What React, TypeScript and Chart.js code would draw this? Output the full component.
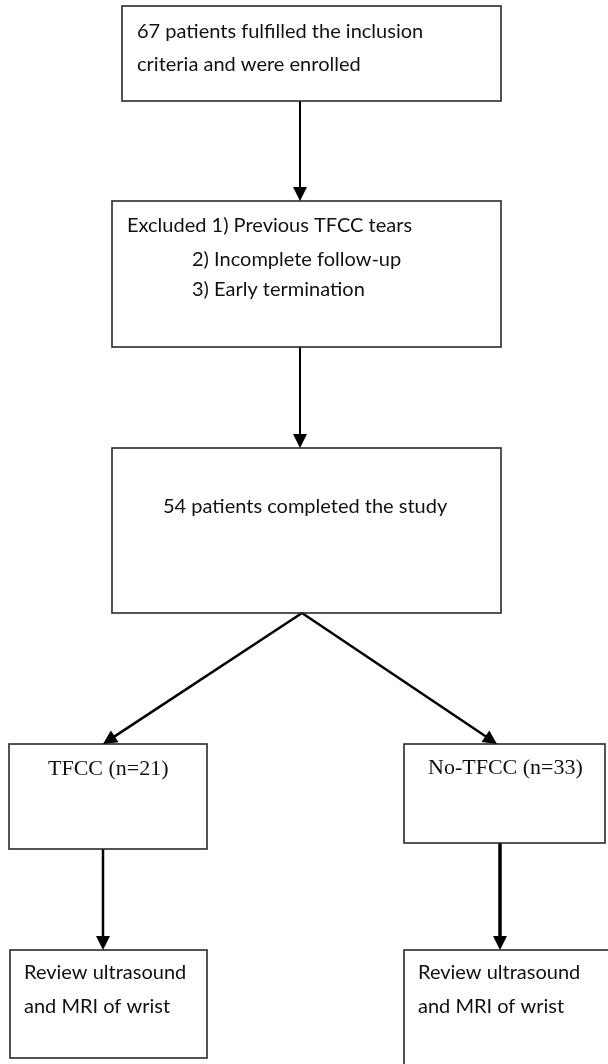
import React, { useEffect, useRef } from "react";
import { Chart, registerables } from "chart.js";

Chart.register(...registerables);

// Flowchart boxes (in chart units: x 0..608, y 0..1064 from top)
const boxLeft = [122, 112, 112, 9, 404, 10, 404];
const boxRight = [501, 501, 501, 207, 605, 207, 614];
const boxTop = [6, 201, 448, 744, 744, 950, 950];
const boxBottom = [101, 347, 613, 849, 843, 1058, 1072];

// Connector arrows
const arrowFromX = [300, 300, 302, 302, 103, 500];
const arrowFromY = [101, 347, 613, 613, 849, 843];
const arrowToX = [300, 300, 103, 497, 103, 500];
const arrowToY = [201, 448, 744, 744, 950, 950];
const arrowWidth = [2, 2, 2.5, 2.5, 2.5, 3.5];

// Text labels
const textLines = [
  "67 patients fulfilled the inclusion",
  "criteria and were enrolled",
  "Excluded 1) Previous TFCC tears",
  "2) Incomplete follow-up",
  "3) Early termination",
  "54 patients completed the study",
  "TFCC (n=21)",
  "No-TFCC (n=33)",
  "Review ultrasound",
  "and MRI of wrist",
  "Review ultrasound",
  "and MRI of wrist",
];
const textX = [137, 137, 127, 192, 192, 163, 48, 428, 24, 24, 418, 418];
const textY = [32, 65, 226, 260, 290, 507, 769, 768, 973, 1007, 973, 1007];
const textSerif = [false, false, false, false, false, false, true, true, false, false, false, false];

const W = 608;
const H = 1064;

const flowPlugin = {
  id: "flow",
  afterDatasetsDraw(chart: any) {
    const ctx = chart.ctx as CanvasRenderingContext2D;
    const xs = chart.scales.x;
    const ys = chart.scales.y;
    ctx.save();
    // boxes
    ctx.strokeStyle = "#2a2a2a";
    ctx.lineWidth = 1.6;
    for (let i = 0; i < boxLeft.length; i++) {
      const x0 = xs.getPixelForValue(boxLeft[i]);
      const x1 = xs.getPixelForValue(boxRight[i]);
      const y0 = ys.getPixelForValue(boxTop[i]);
      const y1 = ys.getPixelForValue(boxBottom[i]);
      ctx.strokeRect(x0, y0, x1 - x0, y1 - y0);
    }
    // arrow heads
    ctx.fillStyle = "#000";
    for (let i = 0; i < arrowFromX.length; i++) {
      const fx = xs.getPixelForValue(arrowFromX[i]);
      const fy = ys.getPixelForValue(arrowFromY[i]);
      const tx = xs.getPixelForValue(arrowToX[i]);
      const ty = ys.getPixelForValue(arrowToY[i]);
      const ang = Math.atan2(ty - fy, tx - fx);
      const len = 14;
      const hw = 7;
      const bx = tx - Math.cos(ang) * len;
      const by = ty - Math.sin(ang) * len;
      ctx.beginPath();
      ctx.moveTo(tx, ty);
      ctx.lineTo(bx + Math.sin(ang) * hw, by - Math.cos(ang) * hw);
      ctx.lineTo(bx - Math.sin(ang) * hw, by + Math.cos(ang) * hw);
      ctx.closePath();
      ctx.fill();
    }
    // text
    ctx.fillStyle = "#111";
    ctx.textBaseline = "middle";
    ctx.textAlign = "left";
    for (let i = 0; i < textLines.length; i++) {
      ctx.font = textSerif[i] ? "22px 'Liberation Serif'" : "20px Lato";
      ctx.fillText(textLines[i], xs.getPixelForValue(textX[i]), ys.getPixelForValue(textY[i]));
    }
    ctx.restore();
  },
};

export default function App() {
  const ref = useRef<HTMLCanvasElement>(null);
  useEffect(() => {
    document.body.style.margin = "0";
    const datasets = arrowFromX.map((_, i) => {
      const ang = Math.atan2(arrowToY[i] - arrowFromY[i], arrowToX[i] - arrowFromX[i]);
      return {
        type: "line" as const,
        data: [
          { x: arrowFromX[i], y: arrowFromY[i] },
          { x: arrowToX[i] - Math.cos(ang) * 8, y: arrowToY[i] - Math.sin(ang) * 8 },
        ],
        borderColor: "#000",
        borderWidth: arrowWidth[i],
        pointRadius: 0,
        fill: false,
        showLine: true,
        clip: false as any,
      };
    });
    const chart = new Chart(ref.current!, {
      type: "scatter",
      data: { datasets },
      options: {
        animation: false,
        responsive: false,
        layout: { padding: 0 },
        plugins: { legend: { display: false }, tooltip: { enabled: false } },
        scales: {
          x: { type: "linear", min: 0, max: W, display: false },
          y: { type: "linear", min: 0, max: H, reverse: true, display: false },
        },
      },
      plugins: [flowPlugin],
    });
    return () => chart.destroy();
  }, []);
  return (
    <div style={{ width: W, height: H, background: "#fff" }}>
      <canvas ref={ref} width={W} height={H} style={{ display: "block" }} />
    </div>
  );
}
